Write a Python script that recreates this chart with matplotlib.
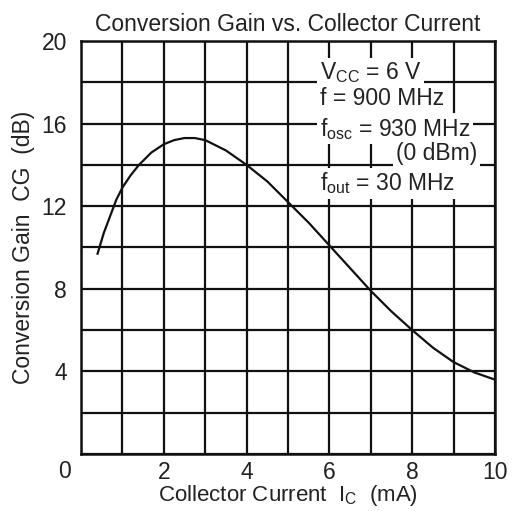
import matplotlib
matplotlib.use("Agg")
import matplotlib.pyplot as plt

plt.rcParams['font.family'] = ['Liberation Sans', 'DejaVu Sans']
plt.rcParams['mathtext.fontset'] = 'custom'
plt.rcParams['mathtext.rm'] = 'Liberation Sans'
plt.rcParams['mathtext.it'] = 'Liberation Sans'

# valores
ic_ma = [0.4, 0.55, 0.7, 0.85, 1.0, 1.2, 1.4, 1.7, 2.0, 2.25, 2.5, 2.75, 3.0,
         3.5, 4.0, 4.5, 5.0, 5.5, 6.0, 6.5, 7.0, 7.5, 8.0, 8.5, 9.0, 9.5, 10.0]
cg_db = [9.7, 10.7, 11.5, 12.3, 12.9, 13.5, 14.0, 14.6, 15.0, 15.2, 15.3, 15.3, 15.2,
         14.7, 14.0, 13.2, 12.2, 11.2, 10.1, 9.0, 7.9, 6.9, 6.0, 5.15, 4.45, 3.95, 3.6]

x_ticks = [2, 4, 6, 8, 10]
y_ticks = [4, 8, 12, 16, 20]

fs = 16.5
txt = '#222222'

fig = plt.figure(figsize=(5.18, 5.11), dpi=100)
ax = fig.add_axes([81/518, 57/511, 414/518, 413/511])

ax.set_xlim(0, 10)
ax.set_ylim(0, 20)
for s in ax.spines.values():
    s.set_linewidth(1.8)
    s.set_color('#111111')

ax.set_xticks(x_ticks, [str(v) for v in x_ticks])
ax.set_xticks(range(0, 11), minor=True)
ax.set_yticks(y_ticks, [str(v) for v in y_ticks])
ax.set_yticks(range(0, 21, 2), minor=True)
ax.grid(True, which='both', color='#111111', lw=1.6)
ax.set_axisbelow(True)
ax.tick_params(which='both', length=0)
ax.tick_params(axis='x', pad=5, labelsize=fs, labelcolor=txt)
ax.tick_params(axis='y', pad=10, labelsize=fs, labelcolor=txt)

# el "0" compartido en la esquina
ax.text(-0.039, -0.015, '0', transform=ax.transAxes, ha='center', va='top',
        fontsize=fs, color=txt)

ax.plot(ic_ma, cg_db, color='#111111', lw=1.6, zorder=3)

ax.set_title('Conversion Gain vs. Collector Current', fontsize=fs,
             color=txt, pad=7)
ax.set_xlabel(r'Collector Current  I$_{\mathrm{C}}$  (mA)', fontsize=16,
              color=txt, labelpad=-1)
ax.set_ylabel('Conversion Gain  CG  (dB)', fontsize=fs, color=txt,
              labelpad=5)

box = dict(facecolor='white', edgecolor='none', pad=2)
kw = dict(fontsize=fs, color=txt, zorder=4, bbox=box)
ax.text(5.77, 18.45, r'V$_{\mathrm{CC}}$ = 6 V', ha='left', va='center', **kw)
ax.text(5.77, 17.2, 'f = 900 MHz', ha='left', va='center', **kw)
ax.text(5.77, 15.75, r'f$_{\mathrm{osc}}$ = 930 MHz', ha='left', va='center', **kw)
ax.text(9.57, 14.55, '(0 dBm)', ha='right', va='center', **kw)
ax.text(5.77, 13.1, r'f$_{\mathrm{out}}$ = 30 MHz', ha='left', va='center', **kw)

fig.savefig('out.png', dpi=100)
